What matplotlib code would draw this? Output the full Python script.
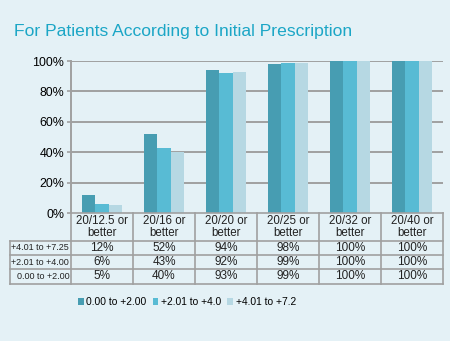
import matplotlib.pyplot as plt
from matplotlib.patches import Patch
from matplotlib.transforms import blended_transform_factory
import numpy as np

plt.rcParams['font.family'] = ['Liberation Sans', 'DejaVu Sans']

categories = ["20/12.5 or\nbetter", "20/16 or\nbetter", "20/20 or\nbetter",
              "20/25 or\nbetter", "20/32 or\nbetter", "20/40 or\nbetter"]
series_dark = [12, 52, 94, 98, 100, 100]
series_mid = [6, 43, 92, 99, 100, 100]
series_light = [5, 40, 93, 99, 100, 100]
legend_labels = ["0.00 to +2.00", "+2.01 to +4.0", "+4.01 to +7.2"]
row_labels = ["+4.01 to +7.25", "+2.01 to +4.00", "0.00 to +2.00"]
row_values = [series_dark, series_mid, series_light]
yticks = [0, 20, 40, 60, 80, 100]

bg = '#e4f1f6'
colors = ['#479db2', '#58bbd4', '#b6d8e3']
gray = '#a0a0a0'

fig = plt.figure(figsize=(4.5, 3.41), dpi=100, facecolor=bg)
ax = fig.add_axes([71/450, 128/341, 372/450, 152/341])
ax.set_facecolor(bg)

x = np.arange(len(categories))
w = 0.218
for i, (vals, c) in enumerate(zip([series_dark, series_mid, series_light], colors)):
    ax.bar(x + (i - 1) * w, vals, width=w, color=c, zorder=3)

ax.set_xlim(-0.5, len(categories) - 0.5)
ax.set_ylim(0, 100)
ax.set_yticks(yticks)
ax.set_yticklabels([f"{t}%" for t in yticks], fontsize=8.9)
ax.set_xticks([])
ax.tick_params(axis='y', length=3, width=1.2, color=gray, pad=2)
for t in yticks[1:]:
    ax.axhline(t, color=gray, lw=1.4, zorder=1)
for s in ['top', 'right', 'bottom']:
    ax.spines[s].set_visible(False)
ax.spines['left'].set_color(gray)
ax.spines['left'].set_linewidth(1.4)

# table under the bars
tr = blended_transform_factory(ax.transData, ax.transAxes)
rows_y = [0, -0.182, -0.276, -0.370, -0.465]
left = -1.49
right = len(categories) - 0.5
kw = dict(transform=tr, color=gray, lw=1.2, clip_on=False, zorder=4)
ax.plot([-0.5, right], [0, 0], **kw)
for yy in rows_y[1:]:
    ax.plot([left, right], [yy, yy], **kw)
for k in range(len(categories) + 1):
    ax.plot([k - 0.5, k - 0.5], [rows_y[0], rows_y[-1]], **kw)
ax.plot([left, left], [rows_y[1], rows_y[-1]], **kw)

for i, cat in enumerate(categories):
    ax.text(i, (rows_y[0] + rows_y[1]) / 2, cat, transform=tr, ha='center',
            va='center', fontsize=8.3, linespacing=0.95, color='#222222')
for r, (lab, vals) in enumerate(zip(row_labels, row_values)):
    yc = (rows_y[r + 1] + rows_y[r + 2]) / 2
    ax.text(-0.53, yc, lab, transform=tr, ha='right', va='center',
            fontsize=6.5, color='#222222')
    for i, v in enumerate(vals):
        ax.text(i, yc, f"{v}%", transform=tr, ha='center', va='center',
                fontsize=8.5, color='#222222')

handles = [Patch(facecolor=c, edgecolor='none') for c in colors]
fig.legend(handles, legend_labels, loc='center left', bbox_to_anchor=(78/450, 0.114),
           ncol=3, frameon=False, fontsize=7.4, handlelength=0.55, handleheight=0.55,
           handletextpad=0.25, columnspacing=0.6, borderpad=0, borderaxespad=0)

fig.text(14/450, 0.894, "For Patients According to Initial Prescription",
         fontsize=12.6, color='#1ba6c6', ha='left', va='baseline')

fig.savefig('out.png', dpi=100, facecolor=bg)
